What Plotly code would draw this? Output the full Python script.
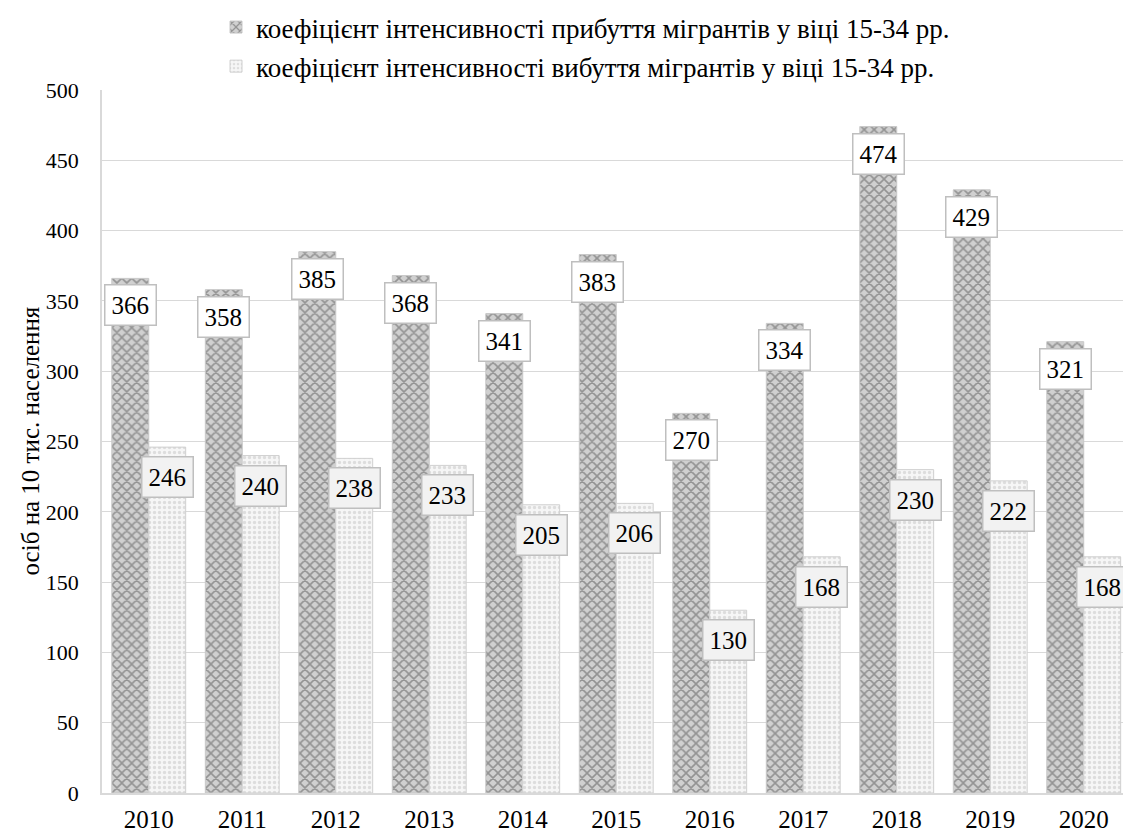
import plotly.graph_objects as go

years = ["2010", "2011", "2012", "2013", "2014", "2015", "2016", "2017", "2018", "2019", "2020"]
arrivals = [366, 358, 385, 368, 341, 383, 270, 334, 474, 429, 321]
departures = [246, 240, 238, 233, 205, 206, 130, 168, 230, 222, 168]
name_arr = "коефіцієнт інтенсивності прибуття мігрантів у віці 15-34 рр."
name_dep = "коефіцієнт інтенсивності вибуття мігрантів у віці 15-34 рр."
y_title = "осіб на 10 тис. населення"

FONT = "'Liberation Serif', 'Times New Roman', 'DejaVu Serif', serif"
W, H = 1123, 833
L, R, T, B = 102, 0, 90, 40

fig = go.Figure()
fig.add_trace(go.Bar(
    x=years, y=arrivals, name=name_arr, legendgroup="a",
    marker=dict(color="#bfbfbf",
                line=dict(color="#c8c8c8", width=1),
                pattern=dict(shape="x", fgcolor="#555555", bgcolor="#d0d0d0", size=7, solidity=0.4)),
    hoverinfo="skip",
))
fig.add_trace(go.Bar(
    x=years, y=departures, name=name_dep, legendgroup="b",
    marker=dict(color="#e6e6e6",
                line=dict(color="#d0d0d0", width=1),
                pattern=dict(shape=".", fgcolor="#c4c4c4", bgcolor="#f6f6f6", size=5, solidity=0.35)),
    hoverinfo="skip",
))

shift = 18.5
for i, v in enumerate(arrivals):
    fig.add_annotation(x=i, y=v, xref="x", yref="y", text=str(v), showarrow=False,
                       xanchor="center", yanchor="middle",
                       xshift=-shift, yshift=-27, bgcolor="#ffffff", bordercolor="#bfbfbf",
                       borderwidth=1.5, borderpad=6, font=dict(family=FONT, size=25, color="#000000"))
for i, v in enumerate(departures):
    fig.add_annotation(x=i, y=v, xref="x", yref="y", text=str(v), showarrow=False,
                       xanchor="center", yanchor="middle",
                       xshift=shift, yshift=-30, bgcolor="#f2f2f2", bordercolor="#bfbfbf",
                       borderwidth=1.5, borderpad=6, font=dict(family=FONT, size=25, color="#000000"))

fig.add_annotation(x=-(L - 30) / (W - L - R), y=0.5, xref="paper", yref="paper",
                   xanchor="center", yanchor="middle",
                   text=y_title, textangle=-90, showarrow=False,
                   font=dict(family=FONT, size=25, color="#000000"))

lx = (216 - L) / (W - L - R)
fig.update_layout(
    width=W, height=H,
    margin=dict(l=L, r=R, t=T, b=B, autoexpand=False),
    paper_bgcolor="#ffffff", plot_bgcolor="#ffffff",
    barmode="group", bargap=0.21, bargroupgap=0,
    font=dict(family=FONT, size=21, color="#000000"),
    showlegend=True,
    legend=dict(x=lx, y=1 + (T - 47) / (H - T - B), xanchor="left", yanchor="middle",
                traceorder="grouped", tracegroupgap=1, itemwidth=30,
                font=dict(family=FONT, size=27, color="#000000"), bgcolor="rgba(0,0,0,0)"),
    xaxis=dict(type="category", range=[-0.5, 10.42], showgrid=False, showline=True,
               linecolor="#d9d9d9", linewidth=1.5, ticks="", ticklabelstandoff=3,
               tickfont=dict(family=FONT, size=25, color="#000000"), fixedrange=True),
    yaxis=dict(range=[0, 500], tickvals=list(range(0, 501, 50)), showgrid=True,
               gridcolor="#d9d9d9", gridwidth=1.2, showline=True, linecolor="#d9d9d9", linewidth=1.5,
               zeroline=False, ticks="", ticklabelstandoff=17,
               tickfont=dict(family=FONT, size=22, color="#000000"), fixedrange=True),
)

fig.write_html("out.html", config={"displayModeBar": False},
               post_script="document.body.style.margin='0';document.body.style.padding='0';")
